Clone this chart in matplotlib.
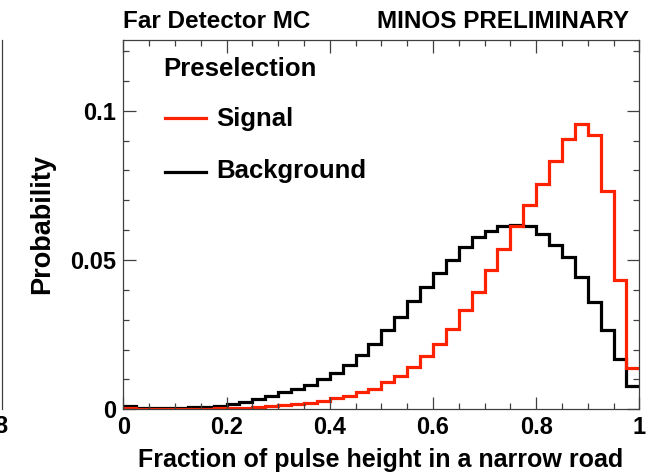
import numpy as np
import matplotlib.pyplot as plt
from matplotlib.lines import Line2D

# 40 bins between 0 and 1
bin_edges = np.linspace(0.0, 1.0, 41)

signal = [0.0004, 0.0001, 0.0001, 0.0001, 0.0002, 0.0002, 0.0002, 0.0003, 0.0004, 0.0005,
          0.0007, 0.0010, 0.0013, 0.0017, 0.0022, 0.0029, 0.0037, 0.0045, 0.0058, 0.0069,
          0.0090, 0.0111, 0.0141, 0.0178, 0.0218, 0.0270, 0.0334, 0.0394, 0.0465, 0.0536,
          0.0614, 0.0684, 0.0755, 0.0832, 0.0905, 0.0955, 0.0919, 0.0732, 0.0432, 0.0139]

background = [0.0010, 0.0003, 0.0003, 0.0004, 0.0006, 0.0007, 0.0009, 0.0011, 0.0018, 0.0025,
              0.0034, 0.0044, 0.0057, 0.0068, 0.0083, 0.0100, 0.0121, 0.0150, 0.0183, 0.0220,
              0.0266, 0.0310, 0.0363, 0.0409, 0.0457, 0.0499, 0.0545, 0.0577, 0.0597, 0.0614,
              0.0618, 0.0613, 0.0588, 0.0550, 0.0510, 0.0444, 0.0359, 0.0264, 0.0169, 0.0077]

x_ticks = [0, 0.2, 0.4, 0.6, 0.8, 1.0]
x_tick_labels = ['0', '0.2', '0.4', '0.6', '0.8', '1']
y_ticks = [0, 0.05, 0.1]
y_tick_labels = ['0', '0.05', '0.1']

plt.rcParams['font.family'] = ['Liberation Sans', 'DejaVu Sans']
plt.rcParams['font.weight'] = 'bold'

W, H = 656, 473
RED = '#ff2200'
AXC = '#404040'


def fx(px):
    return px / W


def fy(py):
    return 1 - py / H


fig = plt.figure(figsize=(W / 100, H / 100), dpi=100)
ax = fig.add_axes([fx(123.3), fy(409.3), (639.3 - 123.3) / W, (409.3 - 40) / H])

# histograms
ax.stairs(background, bin_edges, color='black', lw=2.3, baseline=None)
ax.stairs(signal, bin_edges, color=RED, lw=2.3, baseline=None)

ax.set_xlim(0, 1)
ax.set_ylim(0, 0.1237)
ax.set_xticks(x_ticks)
ax.set_xticklabels(x_tick_labels)
ax.set_xticks(np.arange(0, 1.001, 0.05), minor=True)
ax.set_yticks(y_ticks)
ax.set_yticklabels(y_tick_labels)
ax.set_yticks(np.arange(0, 0.1201, 0.01), minor=True)
ax.tick_params(which='both', direction='in', top=True, right=True, color=AXC, width=0.9)
ax.tick_params(which='major', length=9, labelsize=17, pad=5)
ax.tick_params(which='minor', length=4.5)
for s in ax.spines.values():
    s.set_color(AXC)
    s.set_linewidth(0.9)

# axis titles
fig.text(fx(381), fy(467), 'Fraction of pulse height in a narrow road',
         ha='center', va='baseline', fontsize=18, fontweight='bold')
fig.text(fx(42), fy(224), 'Probability', rotation=90,
         ha='center', va='center', fontsize=19.5, fontweight='bold')

# header texts
fig.text(fx(123), fy(28), 'Far Detector MC', ha='left', va='baseline',
         fontsize=17.5, fontweight='bold')
fig.text(fx(629), fy(28), 'MINOS PRELIMINARY', ha='right', va='baseline',
         fontsize=17.5, fontweight='bold')

# legend
fig.text(fx(163), fy(76), 'Preselection', ha='left', va='baseline',
         fontsize=18.5, fontweight='bold')
fig.add_artist(Line2D([fx(165), fx(206)], [fy(118), fy(118)], color=RED, lw=2.3))
fig.text(fx(216), fy(126), 'Signal', ha='left', va='baseline',
         fontsize=18.5, fontweight='bold')
fig.add_artist(Line2D([fx(165), fx(206)], [fy(172), fy(172)], color='black', lw=2.3))
fig.text(fx(216), fy(178), 'Background', ha='left', va='baseline',
         fontsize=18.5, fontweight='bold')

# edge of the neighbouring panel
fig.add_artist(Line2D([fx(1.5), fx(1.5)], [fy(40), fy(409)], color=AXC, lw=0.9))
fig.text(fx(7), fy(433), '8', ha='right', va='baseline', fontsize=17, fontweight='bold')

fig.savefig('out.png', dpi=100)
